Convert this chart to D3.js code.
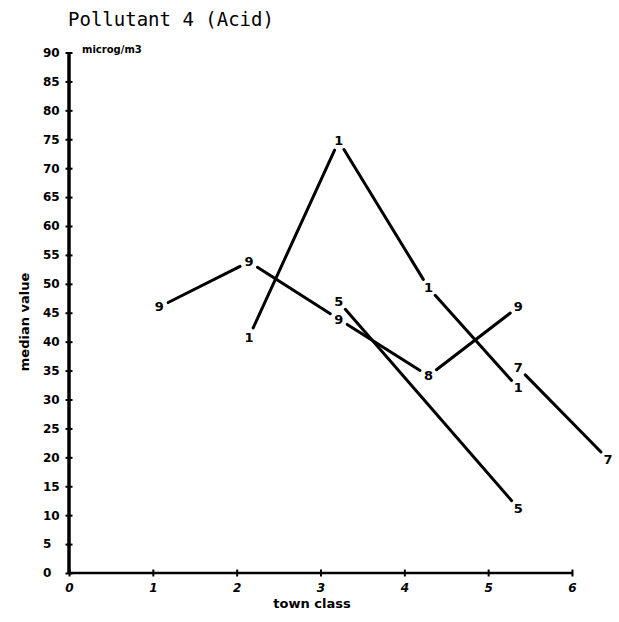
<!DOCTYPE html>
<html><head><meta charset="utf-8">
<script src="https://cdn.jsdelivr.net/npm/d3@7"></script>
<style>body{margin:0;background:#fff}svg{display:block}</style>
</head><body>
<script>
// ---- data ----
const title = "Pollutant 4 (Acid)";
const unitLabel = "microg/m3";
const xTitle = "town class";
const yTitle = "median value";
const xTicks = [0, 1, 2, 3, 4, 5, 6];
const yTicks = d3.range(0, 95, 5);
const series9x = [1, 2, 3, 4, 5];
const series9y = [46.0, 53.8, 43.9, 34.1, 46.0];
const series9labels = ["9", "9", "9", "8", "9"];
const series1x = [2, 3, 4, 5];
const series1y = [40.8, 74.7, 49.3, 32.0];
const series5x = [3, 5];
const series5y = [46.9, 11.2];
const series7x = [5, 6];
const series7y = [35.5, 19.7];

const seriesList = [
  {xs: series9x, ys: series9y, labels: series9labels},
  {xs: series1x, ys: series1y, labels: series1x.map(() => "1")},
  {xs: series5x, ys: series5y, labels: series5x.map(() => "5")},
  {xs: series7x, ys: series7y, labels: series7x.map(() => "7")}
];

const W = 619, H = 622;
const svg = d3.select("body").append("svg").attr("width", W).attr("height", H);

// axis scale (ticks) and data scale (as plotted in original)
const xAxisScale = d3.scaleLinear().domain([0, 6]).range([69, 572]);
const xData = d3.scaleLinear().domain([0, 6]).range([69.5, 608]);
const y = d3.scaleLinear().domain([0, 90]).range([573, 52.5]);

const fontB = "'DejaVu Sans', sans-serif";

svg.append("text").attr("x", 68).attr("y", 26)
  .attr("font-family", "'DejaVu Sans Mono', monospace").attr("font-size", 19)
  .attr("fill", "#000").text(title);

// Y axis
const yAxis = d3.axisLeft(y).tickValues(yTicks).tickSize(3).tickFormat(d3.format("d"));
const gy = svg.append("g").attr("transform", `translate(${xAxisScale(0)},0)`).call(yAxis);
gy.select(".domain").attr("stroke", "#000").attr("stroke-width", 3.5).attr("d", `M0,${y(90)}V${y(0)}`);
gy.selectAll(".tick line").attr("stroke", "#000").attr("stroke-width", 2).attr("x1", -3.5).attr("x2", 3.5);
gy.selectAll(".tick text").attr("x", -26).attr("text-anchor", "start")
  .attr("font-family", fontB).attr("font-weight", "bold").attr("font-size", 12).attr("fill", "#000");

// X axis
const xAxis = d3.axisBottom(xAxisScale).tickValues(xTicks).tickSize(3).tickFormat(d3.format("d"));
const gx = svg.append("g").attr("transform", `translate(0,${y(0)})`).call(xAxis);
gx.select(".domain").attr("stroke", "#000").attr("stroke-width", 2.5).attr("d", `M${xAxisScale(0)},0H${xAxisScale(6)}`);
gx.selectAll(".tick line").attr("stroke", "#000").attr("stroke-width", 2).attr("y1", -3.5).attr("y2", 3.5);
gx.selectAll(".tick text").attr("y", 10)
  .attr("font-family", fontB).attr("font-weight", "bold").attr("font-style", "italic").attr("font-size", 12).attr("fill", "#000");

// unit label
svg.append("text").attr("x", 82).attr("y", 53)
  .attr("font-family", fontB).attr("font-weight", "bold").attr("font-size", 10).attr("fill", "#000")
  .text(unitLabel);

// axis titles
svg.append("text").attr("x", 312).attr("y", 608).attr("text-anchor", "middle")
  .attr("font-family", fontB).attr("font-weight", "bold").attr("font-size", 13).attr("fill", "#000")
  .text(xTitle);
svg.append("text").attr("transform", "translate(29,322) rotate(-90)").attr("text-anchor", "middle")
  .attr("font-family", fontB).attr("font-weight", "bold").attr("font-size", 13).attr("fill", "#000")
  .text(yTitle);

// series
const gap = 10;
seriesList.forEach(s => {
  const pts = s.xs.map((xv, i) => [xData(xv), y(s.ys[i])]);
  for (let i = 0; i < pts.length - 1; i++) {
    const [x1, y1] = pts[i], [x2, y2] = pts[i + 1];
    const dx = x2 - x1, dy = y2 - y1, len = Math.hypot(dx, dy);
    const ux = dx / len, uy = dy / len;
    svg.append("line")
      .attr("x1", x1 + ux * gap).attr("y1", y1 + uy * gap)
      .attr("x2", x2 - ux * gap).attr("y2", y2 - uy * gap)
      .attr("stroke", "#000").attr("stroke-width", 3).attr("stroke-linecap", "round");
  }
  pts.forEach((p, i) => {
    svg.append("text").attr("x", p[0]).attr("y", p[1])
      .attr("text-anchor", "middle").attr("dominant-baseline", "central")
      .attr("font-family", fontB).attr("font-weight", "bold").attr("font-size", 13).attr("fill", "#000")
      .text(s.labels[i]);
  });
});
</script>
</body></html>
